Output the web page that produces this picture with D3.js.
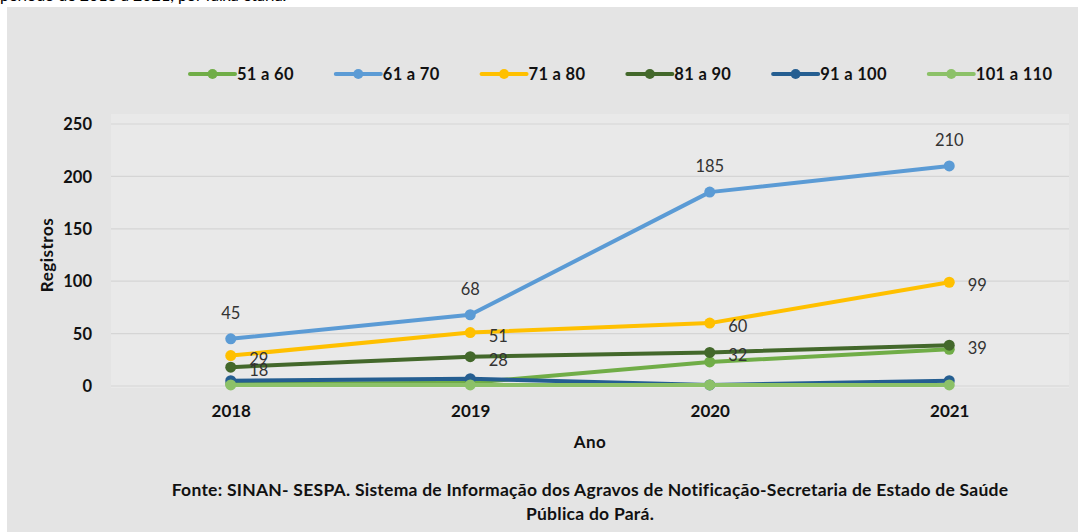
<!DOCTYPE html>
<html><head><meta charset="utf-8">
<script src="https://cdn.jsdelivr.net/npm/d3@7"></script>
<style>
html,body{margin:0;padding:0;background:#fff;}
svg{display:block;}
</style></head>
<body>
<svg id="chart" width="1078" height="532"></svg>
<script>
// ---- data ----
const years = ["2018", "2019", "2020", "2021"];
const seriesNames = ["51 a 60", "61 a 70", "71 a 80", "81 a 90", "91 a 100", "101 a 110"];
const s51a60   = [2, 3, 23, 35];
const s61a70   = [45, 68, 185, 210];
const s71a80   = [29, 51, 60, 99];
const s81a90   = [18, 28, 32, 39];
const s91a100  = [5, 7, 1, 5];
const s101a110 = [1, 1, 1, 1];
const yTicks = [0, 50, 100, 150, 200, 250];
const colors = ["#70ad47", "#5b9bd5", "#ffc000", "#43682b", "#255e91", "#8cc168"];
const labelMode = ["none", "above", "right", "right", "none", "none"];

const seriesValues = [s51a60, s61a70, s71a80, s81a90, s91a100, s101a110];
const series = seriesNames.map((n, i) => ({name: n, values: seriesValues[i], color: colors[i], label: labelMode[i]}));

const svg = d3.select("#chart");
const font = "Lato, sans-serif";

// cut-off text at top
svg.append("text").attr("x", 0).attr("y", 1).attr("font-family", font).attr("font-size", 16)
  .attr("fill", "#000").text("período de 2018 a 2021, por faixa etária.");

// outer background
svg.append("rect").attr("x", 7).attr("y", 7).attr("width", 1071).attr("height", 525).attr("fill", "#e4e4e4");

const plot = {left: 111, right: 1069, top: 124, bottom: 386};
svg.append("rect").attr("x", plot.left).attr("y", plot.top - 10)
  .attr("width", plot.right - plot.left).attr("height", plot.bottom - plot.top + 12).attr("fill", "#e9e9e9");

const x = d3.scalePoint().domain(years).range([plot.left, plot.right]).padding(0.5);
const y = d3.scaleLinear().domain([0, 250]).range([plot.bottom, plot.top]);

// gridlines
svg.append("g").selectAll("line").data(yTicks).join("line")
  .attr("x1", plot.left).attr("x2", plot.right)
  .attr("y1", d => y(d)).attr("y2", d => y(d))
  .attr("stroke", "#d5d5d5").attr("stroke-width", 1.2);

// y axis
const yAxis = svg.append("g").attr("transform", `translate(${plot.left - 19},0)`)
  .call(d3.axisLeft(y).tickValues(yTicks).tickSize(0).tickPadding(0));
yAxis.select(".domain").remove();
yAxis.selectAll("text").attr("font-family", font).attr("font-size", 16.5).attr("font-weight", "bold")
  .attr("fill", "#111").attr("dy", "0.35em");

// x axis
const xAxis = svg.append("g").attr("transform", `translate(0,${plot.bottom + 19})`)
  .call(d3.axisBottom(x).tickSize(0).tickPadding(0));
xAxis.select(".domain").remove();
xAxis.selectAll("text").attr("font-family", font).attr("font-size", 17).attr("font-weight", "bold")
  .attr("fill", "#111").attr("dy", "0.7em");

// axis titles
svg.append("text").attr("x", (plot.left + plot.right) / 2).attr("y", 448).attr("text-anchor", "middle")
  .attr("font-family", font).attr("font-size", 17).attr("font-weight", "bold").attr("letter-spacing", 0.4)
  .attr("fill", "#111").text("Ano");
svg.append("text").attr("transform", `translate(53,${(plot.top + plot.bottom) / 2}) rotate(-90)`)
  .attr("text-anchor", "middle").attr("font-family", font).attr("font-size", 17).attr("font-weight", "bold")
  .attr("letter-spacing", 0.5).attr("fill", "#111").text("Registros");

// lines
const line = d3.line().x((d, i) => x(years[i])).y(d => y(d));
const gS = svg.append("g");
series.forEach(s => {
  const g = gS.append("g");
  g.append("path").attr("d", line(s.values)).attr("fill", "none").attr("stroke", s.color)
    .attr("stroke-width", 4).attr("stroke-linejoin", "round").attr("stroke-linecap", "round");
  g.selectAll("circle").data(s.values).join("circle")
    .attr("cx", (d, i) => x(years[i])).attr("cy", d => y(d)).attr("r", 5.5).attr("fill", s.color);
});

// data labels
series.forEach(s => {
  if (s.label === "none") return;
  svg.append("g").selectAll("text").data(s.values).join("text")
    .attr("x", (d, i) => x(years[i]) + (s.label === "right" ? 28 : 0))
    .attr("y", d => y(d) + (s.label === "right" ? 9 : -20))
    .attr("text-anchor", "middle").attr("font-family", font).attr("font-size", 16.5)
    .attr("fill", "#333").text(d => d);
});

// legend
const leg = svg.append("g").attr("transform", "translate(190,74)");
let lx = 0;
series.forEach(s => {
  const it = leg.append("g").attr("transform", `translate(${lx},0)`);
  it.append("line").attr("x1", 0).attr("x2", 45).attr("y1", 0).attr("y2", 0)
    .attr("stroke", s.color).attr("stroke-width", 4).attr("stroke-linecap", "round");
  it.append("circle").attr("cx", 22.5).attr("cy", 0).attr("r", 5).attr("fill", s.color);
  const t = it.append("text").attr("x", 47).attr("y", 0).attr("dy", "0.35em")
    .attr("font-family", font).attr("font-size", 16.5).attr("font-weight", "bold").attr("letter-spacing", 0.3)
    .attr("fill", "#111").text(s.name);
  lx += 47 + t.node().getComputedTextLength() + 42;
});

// footer
const foot = svg.append("text").attr("text-anchor", "middle").attr("font-family", font)
  .attr("font-size", 17.5).attr("font-weight", "bold").attr("letter-spacing", 0.25).attr("fill", "#111");
foot.append("tspan").attr("x", 590).attr("y", 496)
  .text("Fonte: SINAN- SESPA. Sistema de Informação dos Agravos de Notificação-Secretaria de Estado de Saúde");
foot.append("tspan").attr("x", 590).attr("y", 520).text("Pública do Pará.");
</script>
</body></html>
